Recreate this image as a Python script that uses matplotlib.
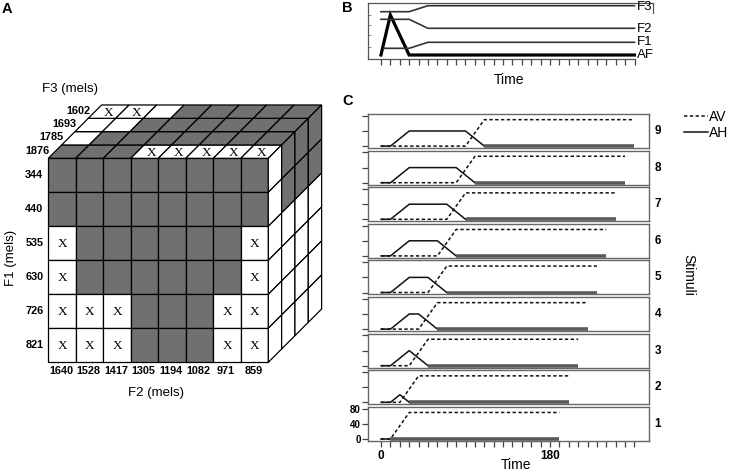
"""
Three panel stimulus figure: A) cube of F1/F2/F3 formant grid,
B) formant trajectories, C) AV / AH amplitude for stimuli 1-9.
"""
import numpy as np
import matplotlib
matplotlib.use("Agg")
from matplotlib import pyplot as plt
from matplotlib.patches import Polygon
from matplotlib.lines import Line2D

plt.rcParams['font.family'] = ['Liberation Sans', 'DejaVu Sans']

# ---- panel A data ----
f2_labels = ['1640', '1528', '1417', '1305', '1194', '1082', '971', '859']
f1_labels = ['344', '440', '535', '630', '726', '821']
f3_labels = ['1876', '1785', '1693', '1602']   # front -> back

# 1 = gray (filled), 0 = white
front_fill = [
    [1, 1, 1, 1, 1, 1, 1, 1],
    [1, 1, 1, 1, 1, 1, 1, 1],
    [0, 1, 1, 1, 1, 1, 1, 0],
    [0, 1, 1, 1, 1, 1, 1, 0],
    [0, 0, 0, 1, 1, 1, 0, 0],
    [0, 0, 0, 1, 1, 1, 0, 0],
]
front_x = [
    [0, 0, 0, 0, 0, 0, 0, 0],
    [0, 0, 0, 0, 0, 0, 0, 0],
    [1, 0, 0, 0, 0, 0, 0, 1],
    [1, 0, 0, 0, 0, 0, 0, 1],
    [1, 1, 1, 0, 0, 0, 1, 1],
    [1, 1, 1, 0, 0, 0, 1, 1],
]
top_fill = [
    [1, 1, 1, 0, 0, 0, 0, 0],
    [0, 1, 1, 1, 1, 1, 1, 1],
    [0, 0, 1, 1, 1, 1, 1, 1],
    [0, 0, 0, 1, 1, 1, 1, 1],
]
top_x = [
    [0, 0, 0, 1, 1, 1, 1, 1],
    [0, 0, 0, 0, 0, 0, 0, 0],
    [0, 0, 0, 0, 0, 0, 0, 0],
    [1, 1, 0, 0, 0, 0, 0, 0],
]
right_fill = [
    [0, 1, 1, 1],
    [0, 1, 1, 1],
    [0, 0, 0, 0],
    [0, 0, 0, 0],
    [0, 0, 0, 0],
    [0, 0, 0, 0],
]

# ---- panel B data ----
af_t = [0, 10, 30, 270]
af_v = [4, 44, 4, 4]
f1_t = [3, 30, 50, 270]
f1_v = [10.7, 10.7, 16.7, 16.7]
f2_t = [0, 30, 50, 270]
f2_v = [39.7, 39.7, 30.7, 30.7]
f3_t = [0, 30, 50, 270]
f3_v = [47.3, 47.3, 53.3, 53.3]

# ---- panel C data ----
stimuli = [1, 2, 3, 4, 5, 6, 7, 8, 9]
av_on = [10, 20, 30, 40, 50, 60, 70, 80, 90]
av_full = [30, 40, 50, 60, 70, 80, 90, 100, 110]
av_level = 70
ah_on = [10, 10, 10, 10, 10, 10, 10, 10, 10]
ah_plat_start = [10, 20, 30, 30, 30, 30, 30, 30, 30]
ah_plat_end = [10, 20, 30, 40, 50, 60, 70, 80, 90]
ah_off = [10, 30, 50, 60, 70, 80, 90, 100, 110]
ah_level = [0, 20, 40, 40, 40, 40, 40, 40, 40]
stim_end = [190, 200, 210, 220, 230, 240, 250, 260, 270]

W, H = 737, 473
fig = plt.figure(figsize=(W / 100, H / 100), dpi=100)

# overlay axes in pixel units for the cube and free text
ax0 = fig.add_axes([0, 0, 1, 1])
ax0.set_xlim(0, W)
ax0.set_ylim(H, 0)
ax0.axis('off')

GRAY = '#707070'
x0, y0 = 48.3, 158.3
cw, rh, dd = 27.5, 34.0, 13.33
ncol, nrow, ndep = len(f2_labels), len(f1_labels), len(f3_labels)


def cell(pts, filled):
    ax0.add_patch(Polygon(pts, closed=True, facecolor=GRAY if filled else 'white',
                          edgecolor='black', lw=0.9))


def xmark(x, y):
    ax0.text(x, y, 'X', ha='center', va='center', fontsize=9.5,
             family='Liberation Serif')


# front face
for r in range(nrow):
    for c in range(ncol):
        xl, yt = x0 + c * cw, y0 + r * rh
        cell([(xl, yt), (xl + cw, yt), (xl + cw, yt + rh), (xl, yt + rh)], front_fill[r][c])
        if front_x[r][c]:
            xmark(xl + cw / 2, yt + rh / 2 + 1)

# top face
for k in range(ndep):
    for c in range(ncol):
        xl = x0 + c * cw
        pts = [(xl + k * dd, y0 - k * dd), (xl + cw + k * dd, y0 - k * dd),
               (xl + cw + (k + 1) * dd, y0 - (k + 1) * dd), (xl + (k + 1) * dd, y0 - (k + 1) * dd)]
        cell(pts, top_fill[k][c])
        if top_x[k][c]:
            xmark(xl + cw / 2 + (k + 0.5) * dd, y0 - (k + 0.5) * dd + 1)

# right face
xr = x0 + ncol * cw
for r in range(nrow):
    for k in range(ndep):
        yt = y0 + r * rh
        pts = [(xr + k * dd, yt - k * dd), (xr + (k + 1) * dd, yt - (k + 1) * dd),
               (xr + (k + 1) * dd, yt + rh - (k + 1) * dd), (xr + k * dd, yt + rh - k * dd)]
        cell(pts, right_fill[r][k])

lab_kw = dict(fontsize=7.8, fontweight='bold')
for r, lab in enumerate(f1_labels):
    ax0.text(43.5, y0 + (r + 0.5) * rh, lab, ha='right', va='center', **lab_kw)
for c, lab in enumerate(f2_labels):
    ax0.text(x0 + (c + 0.5) * cw - 1, 371, lab, ha='center', va='center', **lab_kw)
for k, lab in enumerate(f3_labels):
    ax0.text(x0 + (k + 0.5) * dd - 5, y0 - (k + 0.5) * dd - 1, lab,
             ha='right', va='center', **lab_kw)

ax0.text(70, 89, 'F3 (mels)', ha='center', va='center', fontsize=9.5)
ax0.text(156.5, 392.5, 'F2 (mels)', ha='center', va='center', fontsize=9.5)
ax0.text(11, 258, 'F1 (mels)', ha='center', va='center', fontsize=9.5, rotation=90)

for lab, (px, py) in zip(['A', 'B', 'C'], [(7, 9), (347.5, 8.5), (347.5, 101)]):
    ax0.text(px, py, lab, ha='center', va='center', fontsize=10.5, fontweight='bold')


def fig_rect(left, top, right, bottom):
    return [left / W, 1 - bottom / H, (right - left) / W, (bottom - top) / H]


# ---- panel B ----
axB = fig.add_axes(fig_rect(368, 3.3, 653, 59))
axB.plot(af_t, af_v, color='black', lw=2.3, solid_joinstyle='miter')
for t, v in [(f1_t, f1_v), (f2_t, f2_v), (f3_t, f3_v)]:
    axB.plot(t, v, color='#333333', lw=1.2)
axB.set_xlim(-13.8, 289.7)
axB.set_ylim(0, 55.7)
for lab, yv in [('F3', 52.0), ('F2', 30.4), ('F1', 16.7), ('AF', 4.0)]:
    axB.text(272.5, yv, lab, ha='left', va='center', fontsize=9.5)
for s in axB.spines.values():
    s.set_color('#555555')
    s.set_linewidth(0.9)
axB.spines['bottom'].set_bounds(-13.8, 271)
axB.spines['right'].set_bounds(46, 55.7)
axB.set_xticks(np.arange(0, 271, 10))
axB.set_xticklabels([])
axB.set_yticks([12.3, 24, 34, 44])
axB.set_yticklabels([])
axB.tick_params(axis='x', direction='out', length=4, width=0.9, color='#444444')
axB.tick_params(axis='y', direction='in', length=2.5, width=0.7, color='#888888')
fig.text(509 / W, 1 - 80 / H, 'Time', ha='center', va='center', fontsize=10)

# ---- panel C ----
axes_c = []
for i, s in enumerate(stimuli):
    top = 114 + (9 - s) * 36.6
    ax = fig.add_axes(fig_rect(367.5, top, 649, top + 34))
    axes_c.append(ax)
    ax.plot([0, av_on[i], av_full[i], stim_end[i]], [0, 0, av_level, av_level],
            color='#111111', lw=1.1, ls=(0, (2.2, 1.6)), label='AV')
    ax.plot([0, ah_on[i], ah_plat_start[i], ah_plat_end[i], ah_off[i]],
            [0, 0, ah_level[i], ah_level[i], 0], color='#111111', lw=1.1, label='AH')
    ax.plot([ah_off[i], stim_end[i]], [0, 0], color='#5a5a5a', lw=2.6,
            solid_capstyle='butt')
    ax.set_xlim(-14.5, 285.5)
    ax.set_ylim(-5, 85)
    ax.set_yticks([0, 40, 80])
    for sp in ax.spines.values():
        sp.set_color('#666666')
        sp.set_linewidth(1.0)
    ax.tick_params(axis='y', direction='out', length=4, width=0.9, color='#444444',
                   labelsize=7, pad=1)
    if s == 1:
        ax.set_xticks(np.arange(0, 271, 10))
        ax.set_xticklabels([str(t) if t in (0, 180) else '' for t in range(0, 271, 10)],
                           fontsize=8.5, fontweight='bold')
        ax.tick_params(axis='x', direction='out', length=4.5, width=0.9, color='#444444', pad=2)
        for lab in ax.get_yticklabels():
            lab.set_fontweight('bold')
    else:
        ax.set_xticks([])
        ax.set_yticklabels([])
    ax.text(1.02, 0.5, str(s), transform=ax.transAxes, ha='left', va='center',
            fontsize=8.5, fontweight='bold')

fig.text(516 / W, 1 - 465 / H, 'Time', ha='center', va='center', fontsize=10)
fig.text(688 / W, 1 - 275 / H, 'Stimuli', ha='center', va='center', fontsize=10,
         rotation=-90)

handles = [Line2D([], [], color='#111111', lw=1.1, ls=(0, (2.2, 1.6))),
           Line2D([], [], color='#111111', lw=1.1)]
fig.legend(handles, ['AV', 'AH'], loc='upper left', bbox_to_anchor=(684 / W, 1 - 110 / H),
           frameon=False, fontsize=10, handlelength=1.7, handletextpad=0.1,
           labelspacing=0.15, borderpad=0, borderaxespad=0)

fig.savefig('out.png', dpi=100)
